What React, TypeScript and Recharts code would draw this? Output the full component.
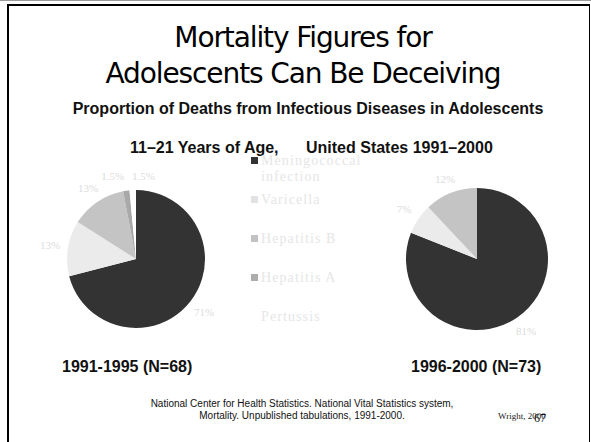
import { PieChart, Pie, Cell } from "recharts";

const categories = ["Meningococcal infection", "Varicella", "Hepatitis B", "Hepatitis A", "Pertussis"];
const sliceColors = ["#333333", "#ebebeb", "#c4c4c4", "#a9a9a9", "#ffffff"];
const markerColors = ["#333333", "#e2e2e2", "#c2c2c2", "#adadad", "#ffffff"];

const period1Values = [71, 13, 13, 1.5, 1.5];
const period1Labels = ["71%", "13%", "13%", "1.5%", "1.5%"];
const period2Values = [81, 7, 12];
const period2Labels = ["81%", "7%", "12%"];

const periodTitles = ["1991-1995 (N=68)", "1996-2000 (N=73)"];

const period1Data = period1Values.map((v, i) => ({ name: categories[i], value: v, label: period1Labels[i] }));
const period2Data = period2Values.map((v, i) => ({ name: categories[i], value: v, label: period2Labels[i] }));

const RAD = Math.PI / 180;

// faint outside-end labels, like the washed-out originals
const renderLabel = (props: any) => {
  const { cx, cy, midAngle, outerRadius, payload } = props;
  const cos = Math.cos(-midAngle * RAD);
  const sin = Math.sin(-midAngle * RAD);
  const r = outerRadius + 14 + 4 * Math.abs(cos);
  const x = cx + r * cos;
  const y = cy + r * sin;
  let anchor: "start" | "middle" | "end" = "middle";
  if (Math.abs(cos) < 0.2) anchor = cos < -0.1 ? "end" : "start";
  return (
    <text
      x={x}
      y={y}
      fill="#dcdcdc"
      fontSize={11}
      fontFamily="'Liberation Serif', serif"
      textAnchor={anchor}
      dominantBaseline="central"
    >
      {payload.label}
    </text>
  );
};

const abs = (left: number, top: number, extra: any = {}) => ({ position: "absolute" as const, left, top, ...extra });

export default function App() {
  const sans = "'Liberation Sans', Arial, sans-serif";
  return (
    <div style={{ position: "absolute", left: 0, top: 0, width: 591, height: 442, background: "#fff", overflow: "hidden" }}>
      {/* slide frame */}
      <div style={abs(0, 0, { width: 591, height: 1, background: "#9a9a9a" })} />
      <div style={abs(7, 4, { width: 583, height: 2, background: "#000" })} />
      <div style={abs(7, 4, { width: 2, height: 438, background: "#000" })} />
      <div style={abs(589, 4, { width: 1, height: 438, background: "#000" })} />

      <div style={abs(0, 20.8, { width: 606, textAlign: "center", fontFamily: "'DejaVu Sans', sans-serif", fontSize: 28, lineHeight: "33px", letterSpacing: -1.1, color: "#000" })}>
        Mortality Figures for
      </div>
      <div style={abs(0, 56.8, { width: 606, textAlign: "center", fontFamily: "'DejaVu Sans', sans-serif", fontSize: 28, lineHeight: "33px", letterSpacing: -1.1, color: "#000" })}>
        Adolescents Can Be Deceiving
      </div>

      <div style={abs(0, 99.5, { width: 616, textAlign: "center", fontFamily: sans, fontWeight: 700, fontSize: 16, lineHeight: "18px", color: "#111" })}>
        Proportion of Deaths from Infectious Diseases in Adolescents
      </div>
      <div style={abs(130, 138.5, { fontFamily: sans, fontWeight: 700, fontSize: 16, lineHeight: "18px", color: "#111", whiteSpace: "nowrap" })}>
        11–21 Years of Age,
      </div>
      <div style={abs(306, 138.5, { fontFamily: sans, fontWeight: 700, fontSize: 16, lineHeight: "18px", color: "#111", whiteSpace: "nowrap" })}>
        United States 1991–2000
      </div>

      <div style={abs(0, 0)}>
        <PieChart width={591} height={442}>
          <Pie
            data={period1Data}
            dataKey="value"
            nameKey="name"
            cx={131}
            cy={254}
            outerRadius={69}
            startAngle={90}
            endAngle={-270}
            stroke="none"
            label={renderLabel}
            labelLine={false}
            isAnimationActive={false}
          >
            {period1Data.map((d, i) => (
              <Cell key={d.name} fill={sliceColors[i]} />
            ))}
          </Pie>
          <Pie
            data={period2Data}
            dataKey="value"
            nameKey="name"
            cx={472}
            cy={254}
            outerRadius={71}
            startAngle={90}
            endAngle={-270}
            stroke="none"
            label={renderLabel}
            labelLine={false}
            isAnimationActive={false}
          >
            {period2Data.map((d, i) => (
              <Cell key={d.name} fill={sliceColors[i]} />
            ))}
          </Pie>
        </PieChart>
      </div>

      {/* washed-out legend */}
      {categories.map((c, i) => (
        <div key={c} style={abs(251, 153 + i * 39, { width: 130, height: 39 })}>
          <div style={abs(0, 4, { width: 7, height: 7, background: markerColors[i] })} />
          <div
            style={abs(10, 0, {
              width: 112,
              fontFamily: "'Liberation Serif', serif",
              fontSize: 14,
              lineHeight: "16px",
              letterSpacing: 1.1,
              color: "#e6e6e6",
            })}
          >
            {c}
          </div>
        </div>
      ))}

      <div style={abs(62, 357.5, { fontFamily: sans, fontWeight: 700, fontSize: 16, lineHeight: "18px", color: "#111", whiteSpace: "nowrap" })}>
        {periodTitles[0]}
      </div>
      <div style={abs(411, 357.5, { fontFamily: sans, fontWeight: 700, fontSize: 16, lineHeight: "18px", color: "#111", whiteSpace: "nowrap" })}>
        {periodTitles[1]}
      </div>

      <div style={abs(0, 398, { width: 604, textAlign: "center", fontFamily: sans, fontSize: 10, lineHeight: "12px", color: "#111" })}>
        National Center for Health Statistics. National Vital Statistics system,
        <br />
        Mortality. Unpublished tabulations, 1991-2000.
      </div>
      <div style={abs(498, 411, { fontFamily: "'Liberation Serif', serif", fontSize: 9, lineHeight: "10px", color: "#222", whiteSpace: "nowrap" })}>
        Wright, 2000
      </div>
      <div style={abs(534, 412, { fontFamily: "'Liberation Serif', serif", fontSize: 12, lineHeight: "13px", color: "#111", whiteSpace: "nowrap" })}>
        67
      </div>
    </div>
  );
}
